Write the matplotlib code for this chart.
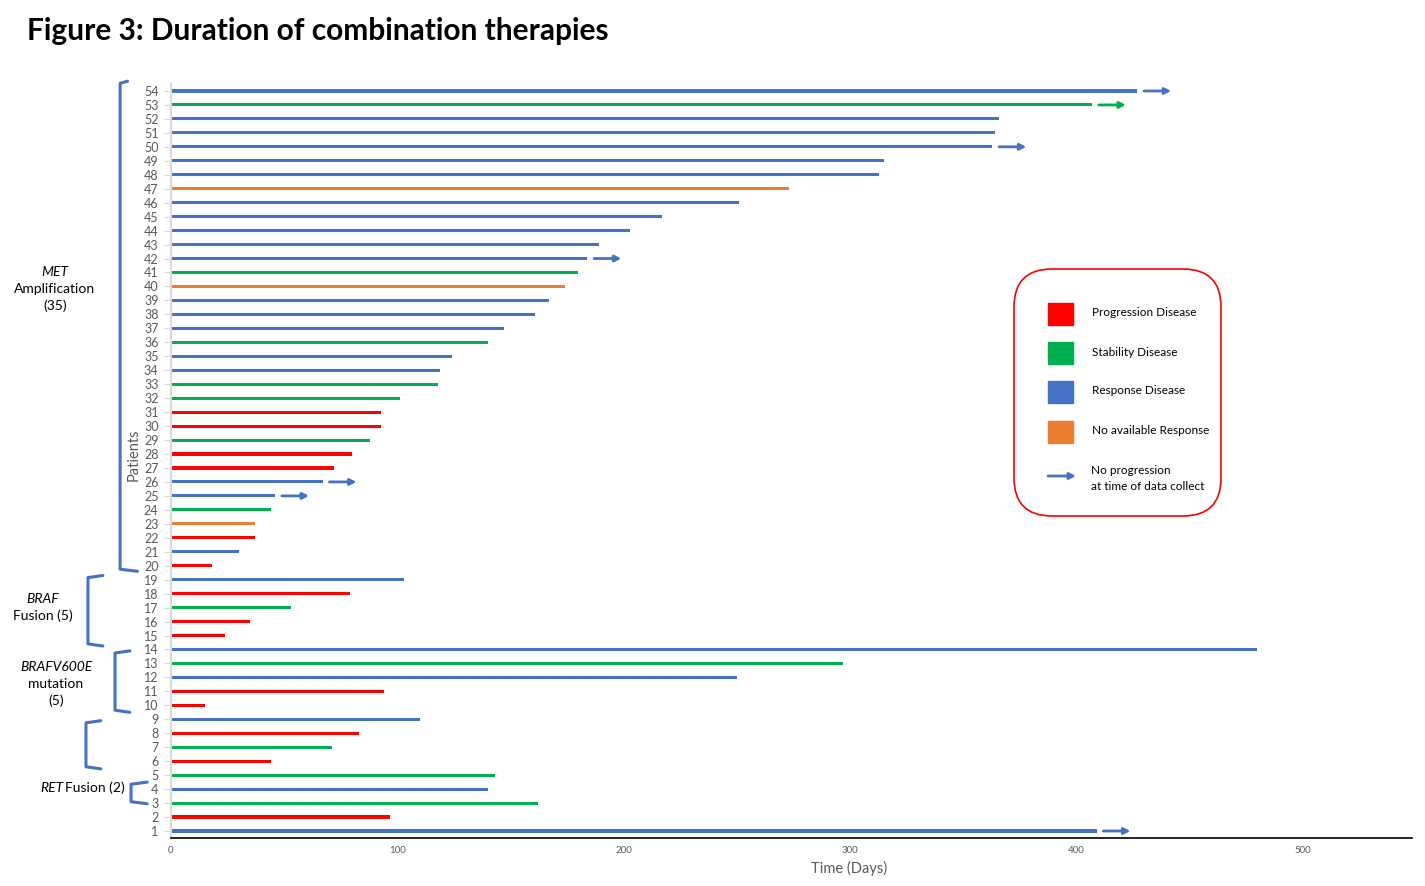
import numpy as np
import matplotlib
matplotlib.use("Agg")
import matplotlib.pyplot as plt
from matplotlib.patches import FancyBboxPatch, Rectangle

plt.rcParams['font.family'] = ['Lato', 'DejaVu Sans']

# %% DATA
patients = list(range(1, 55))
days = [409, 97, 162, 140, 143, 44, 71, 83, 110, 15,
        94, 250, 297, 480, 24, 35, 53, 79, 103, 18,
        30, 37, 37, 44, 46, 67, 72, 80, 88, 93,
        93, 101, 118, 119, 124, 140, 147, 161, 167, 174,
        180, 184, 189, 203, 217, 251, 273, 313, 315, 363,
        364, 366, 407, 427]
# P = progression, S = stability, R = response, N = no available response
response = ['R', 'P', 'S', 'R', 'S', 'P', 'S', 'P', 'R', 'P',
            'P', 'R', 'S', 'R', 'P', 'P', 'S', 'P', 'R', 'P',
            'R', 'P', 'N', 'S', 'R', 'R', 'P', 'P', 'S', 'P',
            'P', 'S', 'S', 'R', 'R', 'S', 'R', 'R', 'R', 'N',
            'S', 'R', 'R', 'R', 'R', 'R', 'N', 'R', 'R', 'R',
            'R', 'R', 'S', 'R']
ongoing = [1, 25, 26, 42, 50, 53, 54]

legend_labels = ['Progression Disease', 'Stability Disease',
                 'Response Disease', 'No available Response']
legend_codes = ['P', 'S', 'R', 'N']

# group brackets: (top row, bottom row)
group_rows = [(54.7, 19.6), (19.3, 14.25), (13.9, 9.5), (8.9, 5.45), (4.5, 2.95)]

colors = {'P': '#FF0000', 'S': '#00B050', 'R': '#4472C4', 'N': '#ED7D31'}
blue = '#4472C4'
grey_txt = '#595959'

# %% FIGURE
fig = plt.figure(figsize=(14.25, 8.86), dpi=100)
ax = fig.add_axes([0.12, 0.0542, 0.871, 0.851])

bar_cols = [colors[r] for r in response]
ax.barh(patients, days, height=0.22, color=bar_cols, left=0)

# arrows for patients without progression
for p in ongoing:
    d = days[p - 1]
    ax.annotate('', xy=(d + 15, p), xytext=(d + 3, p),
                arrowprops=dict(arrowstyle='-|>', color=colors[response[p - 1]],
                                lw=2, mutation_scale=9, shrinkA=0, shrinkB=0))

ax.set_xlim(0, 548.5)
ax.set_ylim(0.5, 54.5)
ax.set_yticks(patients)
ax.set_yticklabels([str(p) for p in patients], fontsize=9, color=grey_txt)
ax.set_xticks([0, 100, 200, 300, 400, 500])
ax.tick_params(axis='x', length=0, labelsize=7, labelcolor=grey_txt, pad=6)
ax.tick_params(axis='y', length=5, color='#D9D9D9', pad=4)
for s in ['top', 'right']:
    ax.spines[s].set_visible(False)
ax.spines['left'].set_color('#D9D9D9')
ax.spines['left'].set_linewidth(1.5)
ax.spines['bottom'].set_color('black')
ax.spines['bottom'].set_linewidth(1.2)
ax.set_xlabel('Time (Days)', fontsize=10.5, color=grey_txt, labelpad=6)
ax.xaxis.set_label_coords(0.546, -0.031)
ax.set_ylabel('Patients', fontsize=10.5, color=grey_txt, labelpad=2)
ax.yaxis.label.set_y(0.508)

fig.text(0.019, 0.965, 'Figure 3: Duration of combination therapies',
         fontsize=21.5, fontweight='bold', va='center', ha='left')

# %% GROUP BRACKETS (x in axes fraction, y in data)
trans = ax.get_yaxis_transform()
bracket_x = [-0.041, -0.0669, -0.0451, -0.0685, -0.0322]
bracket_w = [(0.006, 0.014), (0.012, 0.012), (0.012, 0.012), (0.012, 0.012), (0.013, 0.013)]
for (top, bot), bx, (wt, wb) in zip(group_rows, bracket_x, bracket_w):
    ax.plot([bx + wt, bx, bx, bx + wb], [top, top - 0.15, bot + 0.15, bot],
            transform=trans, color=blue, lw=2.2, clip_on=False,
            solid_joinstyle='round', solid_capstyle='round')

# group labels (figure pixels from top)
def ftext(px, py, s, **kw):
    fig.text(px / 1425, 1 - py / 886, s, ha='center', va='center',
             fontsize=10, color='black', **kw)

ftext(55, 272, 'MET', style='italic')
ftext(55, 289, 'Amplification')
ftext(55, 306, '(35)')
ftext(43, 599, 'BRAF', style='italic')
ftext(43, 616, 'Fusion (5)')
ftext(56, 667, 'BRAFV600E', style='italic')
ftext(56, 684, 'mutation')
ftext(56, 701, '(5)')
fig.text(40 / 1425, 1 - 788 / 886, 'RET', style='italic', fontsize=10,
         ha='left', va='center')
fig.text(65 / 1425, 1 - 788 / 886, 'Fusion (2)', fontsize=10,
         ha='left', va='center')

# %% LEGEND BOX (pixel units)
lax = fig.add_axes([1013 / 1425, 1 - 517 / 886, 209 / 1425, 249 / 886])
lax.set_xlim(0, 209)
lax.set_ylim(249, 0)
lax.axis('off')
lax.add_patch(FancyBboxPatch((1, 1), 207, 247,
                             boxstyle='round,pad=0,rounding_size=38',
                             ec='#FF0000', fc='white', lw=1.2))
leg_y = [46, 85, 124, 164]
for yy, code, lab in zip(leg_y, legend_codes, legend_labels):
    lax.add_patch(Rectangle((35, yy - 11), 25, 22, color=colors[code]))
    lax.text(79, yy - 1, lab, fontsize=8.5, va='center', ha='left')
lax.annotate('', xy=(63, 208), xytext=(35, 208),
             arrowprops=dict(arrowstyle='-|>', color=blue, lw=2,
                             mutation_scale=9, shrinkA=0, shrinkB=0))
lax.text(78, 203, 'No progression', fontsize=8.5, va='center', ha='left')
lax.text(78, 218, 'at time of data collect', fontsize=8.5, va='center', ha='left')

fig.savefig('out.png', dpi=100)
